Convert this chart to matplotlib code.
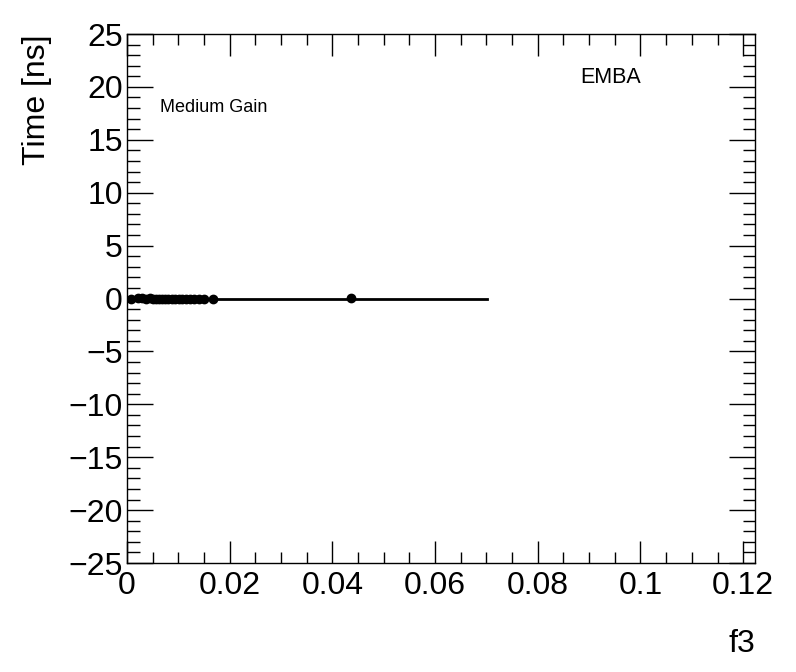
import matplotlib.pyplot as plt
from matplotlib.ticker import MultipleLocator

plt.rcParams['font.family'] = ['Liberation Sans', 'DejaVu Sans']

# fit line (constant at 0) over the f3 range
line_x = [0.0, 0.0701]
line_y = [0.0, 0.0]

# measured points
f3_values = [0.0008, 0.0022, 0.0030, 0.0038, 0.0044, 0.0050, 0.0056, 0.0062,
             0.0068, 0.0074, 0.0080, 0.0087, 0.0094, 0.0101, 0.0108, 0.0115,
             0.0123, 0.0131, 0.0140, 0.0150, 0.0167, 0.0436]
time_values = [0.0, 0.05, 0.05, 0.0, 0.05, -0.05, 0.0, 0.0,
               0.0, 0.0, 0.0, 0.0, 0.0, 0.0, 0.0, 0.0,
               0.0, 0.0, 0.0, 0.0, 0.0, 0.05]

fig = plt.figure(figsize=(7.96, 6.72), dpi=100)
ax = fig.add_axes([0.1595, 0.1622, 0.789, 0.7872])

ax.plot(line_x, line_y, color='black', lw=2, zorder=2)
ax.plot(f3_values, time_values, 'o', color='black', ms=6, zorder=3)

ax.set_xlim(0, 0.1223)
ax.set_ylim(-25, 25)

ax.xaxis.set_minor_locator(MultipleLocator(0.005))
ax.yaxis.set_minor_locator(MultipleLocator(1))
ax.set_xticks([0, 0.02, 0.04, 0.06, 0.08, 0.1, 0.12])
ax.set_xticklabels(['0', '0.02', '0.04', '0.06', '0.08', '0.1', '0.12'])
ax.set_yticks(range(-25, 26, 5))
ax.set_yticklabels([str(v).replace('-', '\u2212') for v in range(-25, 26, 5)])

ax.tick_params(which='both', direction='in', top=True, right=True,
               labelsize=23, width=1, pad=3)
ax.tick_params(axis='x', which='major', length=16, pad=6)
ax.tick_params(axis='x', which='minor', length=8)
ax.tick_params(axis='y', which='major', length=19)
ax.tick_params(axis='y', which='minor', length=9)
for s in ax.spines.values():
    s.set_linewidth(1)

ax.set_ylabel('Time [ns]', fontsize=23, loc='top', labelpad=12)
ax.set_xlabel('f3', fontsize=23, loc='right', labelpad=20)

ax.text(0.052, 0.852, 'Medium Gain', transform=ax.transAxes, fontsize=13)
ax.text(0.721, 0.908, 'EMBA', transform=ax.transAxes, fontsize=15.5)

fig.savefig('out.png', dpi=100)
